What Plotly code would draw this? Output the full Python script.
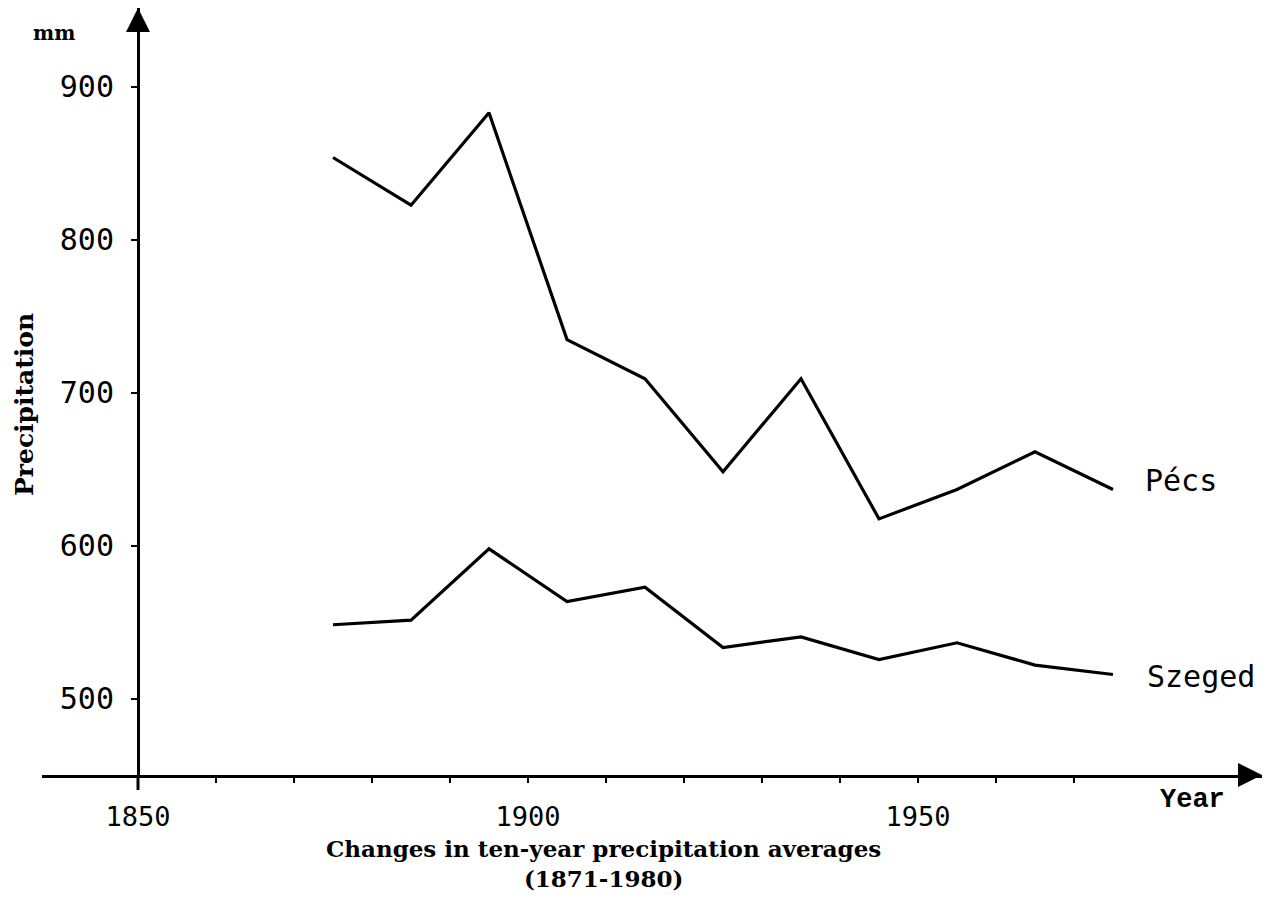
import plotly.graph_objects as go

years = [1875, 1885, 1895, 1905, 1915, 1925, 1935, 1945, 1955, 1965, 1975]
pecs = [853.6, 822.4, 882.8, 734.6, 709.0, 648.2, 709.0, 617.4, 636.6, 661.2, 636.6]
szeged = [548.2, 551.2, 597.8, 563.4, 572.7, 533.3, 540.3, 525.5, 536.4, 521.8, 515.7]

x_tickvals = [1850, 1860, 1870, 1880, 1890, 1900, 1910, 1920, 1930, 1940, 1950, 1960, 1970]
x_ticktext = ["1850", "", "", "", "", "1900", "", "", "", "", "1950", "", ""]
y_tickvals = [500, 600, 700, 800, 900]
y_ticktext = ["500", "600", "700", "800", "900"]

W, H = 1278, 913
OFF = 8  # page body margin
# plot area in page pixels: x 42..1262, y 8..775
L = 42 - OFF
T = 8 - OFF
R = W - (1262 - OFF)
B = H - (775 - OFF)
PW = W - L - R
PH = H - T - B
px_per_year = 7.8
px_per_mm = 1.53
x0 = 1850 - (138 - 42) / px_per_year
x1 = x0 + PW / px_per_year
y0 = 450
y1 = y0 + PH / px_per_mm
yaxis_pos = (1850 - x0) / (x1 - x0)

mono = "DejaVu Sans Mono"
serif = "DejaVu Serif"


def px(xp, yp):
    """page pixel -> paper fraction"""
    return ((xp - OFF) - L) / PW, 1 - ((yp - OFF) - T) / PH


fig = go.Figure()
for name, vals in [("Pécs", pecs), ("Szeged", szeged)]:
    fig.add_trace(go.Scatter(x=years, y=vals, mode="lines", name=name,
                             line=dict(color="black", width=3.2), showlegend=False))

fig.update_layout(
    width=W, height=H,
    margin=dict(l=L, r=R, t=T, b=B),
    paper_bgcolor="white", plot_bgcolor="white",
    xaxis=dict(range=[x0, x1], showgrid=False, zeroline=False,
               showline=True, linecolor="black", linewidth=3,
               tickvals=x_tickvals, ticktext=x_ticktext,
               ticks="outside", ticklen=5, tickwidth=2, tickcolor="black",
               ticklabelstandoff=11,
               tickfont=dict(family=mono, size=27, color="black")),
    yaxis=dict(range=[y0, y1], showgrid=False, zeroline=False,
               anchor="free", position=yaxis_pos,
               showline=True, linecolor="black", linewidth=3,
               tickvals=y_tickvals, ticktext=y_ticktext,
               ticks="outside", ticklen=6, tickwidth=2, tickcolor="black",
               ticklabelstandoff=11,
               tickfont=dict(family=mono, size=30, color="black")),
)

# axis arrows
fig.add_annotation(x=x1, y=450, ax=x1 - 3, ay=450, xref="x", yref="y", axref="x", ayref="y",
                   showarrow=True, arrowhead=2, arrowsize=1.6, arrowwidth=3, arrowcolor="black", text="")
fig.add_annotation(x=1850, y=y1, ax=1850, ay=y1 - 15, xref="x", yref="y", axref="x", ayref="y",
                   showarrow=True, arrowhead=2, arrowsize=1.6, arrowwidth=3, arrowcolor="black", text="")
# y axis extends slightly below the x axis
fig.add_shape(type="line", xref="x", yref="paper", x0=1850, x1=1850, y0=0, y1=-15 / PH,
              line=dict(color="black", width=3))

# series labels
fig.add_annotation(x=1978.8, y=642.5, xref="x", yref="y", text="Pécs", showarrow=False,
                   xanchor="left", yanchor="middle", font=dict(family=mono, size=30, color="black"))
fig.add_annotation(x=1979.1, y=514.4, xref="x", yref="y", text="Szeged", showarrow=False,
                   xanchor="left", yanchor="middle", font=dict(family=mono, size=30, color="black"))


def label(xp, yp, text, font, angle=0):
    fx, fy = px(xp, yp)
    fig.add_annotation(x=fx, y=fy, xref="paper", yref="paper", xanchor="center", yanchor="middle",
                       text=text, textangle=angle, showarrow=False, font=font)


label(54, 33, "<b>mm</b>", dict(family=serif, size=20, color="black"))
label(24, 405, "<b>Precipitation</b>", dict(family=serif, size=25, color="black"), angle=-90)
label(1192, 800, "<b>Year</b>", dict(family="Liberation Mono", size=27, color="black"))
label(603, 863, "<b>Changes in ten-year precipitation averages</b><br><b>(1871-1980)</b>",
      dict(family=serif, size=23, color="black"))

fig.write_html("out.html")
